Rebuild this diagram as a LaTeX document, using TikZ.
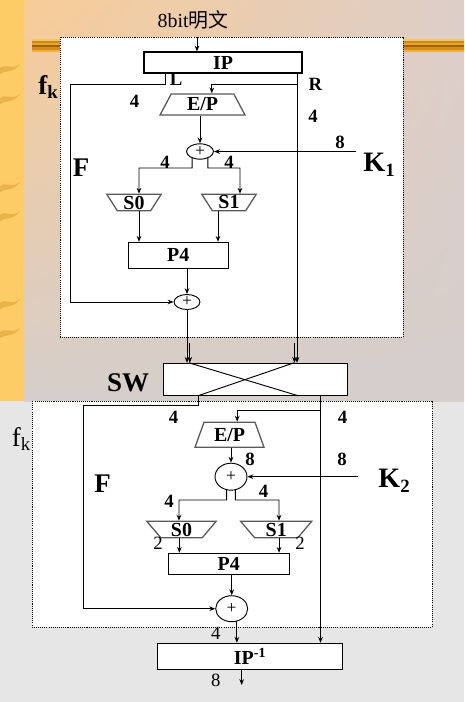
\documentclass[tikz,border=0pt]{standalone}
\usepackage{fontspec}
\setmainfont{Liberation Serif}
\newfontfamily\cjk{Noto Sans CJK SC}
\usetikzlibrary{arrows.meta, shapes.geometric, shadings}
\definecolor{stripc}{HTML}{FECC66}
\definecolor{leafc}{HTML}{E9B24A}
\definecolor{peach}{HTML}{F8CC96}
\definecolor{mauve}{HTML}{DDCEC9}
\definecolor{greyb}{HTML}{D5CECB}
\definecolor{lowgrey}{HTML}{E6E6E6}
\definecolor{trapc}{HTML}{5A5A5A}
\definecolor{barA}{HTML}{F2C464}
\definecolor{barB}{HTML}{C88A18}
\definecolor{barC}{HTML}{E9A52A}
\definecolor{barD}{HTML}{9C6408}
\definecolor{barE}{HTML}{D48C14}
\definecolor{barF}{HTML}{F2B040}

\begin{document}
\begin{tikzpicture}[
    x=0.03cm, y=-0.03cm,
    every node/.style={inner sep=0pt},
    arr/.style={-{Stealth[length=5pt, width=4pt]}, line width=0.8pt},
    wire/.style={line width=0.8pt},
    box/.style={rectangle, draw, line width=0.9pt, fill=white, font=\bfseries\fontsize{17}{17}\selectfont},
    trap/.style={trapezium, draw=trapc, line width=1.1pt, fill=white, trapezium stretches body, font=\bfseries\fontsize{17}{17}\selectfont},
    xorop/.style={ellipse, draw, line width=0.8pt, fill=white, font=\fontsize{15}{15}\selectfont},
    num/.style={font=\bfseries\fontsize{16}{16}\selectfont},
    thin/.style={font=\fontsize{16}{16}\selectfont},
    big/.style={font=\bfseries\fontsize{23}{23}\selectfont},
    frame/.style={fill=white, line width=0.8pt, dash pattern=on 0.9pt off 0.9pt},
]
\useasboundingbox (0,0) rectangle (464,702);

% ============================================================ slide background
\fill[lowgrey] (0,401) rectangle (464,702);
\shade[upper left=peach, upper right=mauve, lower left=greyb, lower right=greyb] (24,0) rectangle (464,401);
\fill[stripc] (0,0) rectangle (24,401);
\foreach \ly in {68, 98, 186, 215, 303, 332}{
    \fill[leafc] (0,\ly) .. controls (6,\ly-5) and (12,\ly+3) .. (20,\ly-4)
        .. controls (14,\ly+5) and (6,\ly+2) .. (0,\ly+6) -- cycle;
}
\fill[barA] (32,39) rectangle (464,41.5);
\fill[barB] (32,41.5) rectangle (464,43.5);
\fill[barC] (32,43.5) rectangle (464,45.5);
\fill[barD] (32,45.5) rectangle (464,47.5);
\fill[barE] (32,47.5) rectangle (464,50);
\fill[barF] (32,50) rectangle (464,52);

\filldraw[frame] (60,37) rectangle (403,337);
\filldraw[frame] (32,401) rectangle (432,627);

% ============================================================ first round f_k
\node (plain) at (193,20) {\fontsize{17}{17}\selectfont 8bit{\cjk 明文}};
\node[box, minimum width=4.74cm, minimum height=0.63cm] (ip) at (223,62.5) {IP};
\coordinate (inp) at (197,37);
\coordinate (lo) at (165,73);
\coordinate (ro) at (297,73);
\coordinate (rb) at (297,84);
\coordinate (k1in) at (356,151.5);

\node[trap, trapezium left angle=50, trapezium right angle=50,
    minimum width=2.55cm, minimum height=0.63cm] (ep1) at (202.5,104.5) {E/P};
\node[xorop, minimum width=0.81cm, minimum height=0.46cm] (ox1) at (200,151.5) {+};
\node[trap, shape border rotate=180, trapezium left angle=52, trapezium right angle=52,
    minimum width=1.63cm, minimum height=0.49cm] (s0a) at (134,202.5) {S0};
\node[trap, shape border rotate=180, trapezium left angle=52, trapezium right angle=52,
    minimum width=1.63cm, minimum height=0.49cm] (s1a) at (229,202.5) {S1};
\node[box, minimum width=3cm, minimum height=0.78cm] (p4a) at (178.3,255.3) {P4};
\node[xorop, minimum width=0.78cm, minimum height=0.45cm] (ox2) at (187,302) {+};

% the swap box
\node[box, minimum width=5.53cm, minimum height=0.96cm] (sw) at (255.5,379.3) {};
\draw[wire] ([xshift=0.78cm]sw.north west) -- ([xshift=4.07cm]sw.south west);
\draw[wire] ([xshift=3.94cm]sw.north west) -- ([xshift=1.05cm]sw.south west);
\coordinate (dl) at (189.8,343);
\coordinate (dr) at (294.5,343);

\draw[arr] (inp) -- (inp |- ip.north);
\draw[arr] (lo) |- (70,84) |- (ox2.west);
\draw[arr] (ro) -- (ro |- sw.north);
\draw[arr] (rb) -| ([xshift=0.28cm]ep1.north);
\draw[arr] (ox1.north |- ep1.south) -- (ox1.north);
\draw[arr] (k1in) -- (ox1.east);
\draw[arr] (ox1.-140) |- (139,168) -- ([xshift=0.15cm]s0a.north);
\draw[arr] (ox1.-40) |- (240,168) -- ([xshift=0.33cm]s1a.north);
\draw[arr] ([xshift=0.15cm]s0a.south) -- ([xshift=0.15cm]s0a.south |- p4a.north);
\draw[arr] ([xshift=-0.33cm]s1a.south) -- ([xshift=-0.33cm]s1a.south |- p4a.north);
\draw[arr] (ox2.north |- p4a.south) -- (ox2.north);
\draw[arr] (ox2.south) -- (ox2.south |- sw.north);
\draw[arr] (dl) -- (dl |- sw.north);
\draw[arr] (dr) -- (dr |- sw.north);

\node[num] (lname) at (176,79) {L};
\node[num] (rname) at (315.5,84) {R};
\node[num] (la) at (134.5,101.5) {4};
\node[num] (ra) at (313,116.5) {4};
\node[num] (k1w) at (340,142) {8};
\node[num] (s0w) at (165,162.5) {4};
\node[num] (s1w) at (229,162.5) {4};
\node[big] (fka) at (48,87) {f\raisebox{-4pt}{\fontsize{16}{16}\selectfont k}};
\node[big] (fa) at (81,167.5) {F};
\node[big, font=\bfseries\fontsize{24}{24}\selectfont] (k1) at (379,165) {K\raisebox{-4pt}{\fontsize{16}{16}\selectfont 1}};
\node[big] (swl) at (128,383) {SW};

% ============================================================ second round f_k
\coordinate (rb2) at (321,410.7);
\coordinate (k2in) at (358,476.7);
\coordinate (outp) at (241.7,685);

\node[trap, trapezium left angle=56, trapezium right angle=56,
    minimum width=2.07cm, minimum height=0.75cm] (ep2) at (229.5,434.8) {E/P};
\node[xorop, minimum width=0.96cm, minimum height=0.81cm] (ox3) at (231,476.7) {+};
\node[trap, shape border rotate=180, trapezium left angle=44, trapezium right angle=44,
    minimum width=2.08cm, minimum height=0.49cm] (s0b) at (181.5,529.5) {S0};
\node[trap, shape border rotate=180, trapezium left angle=44, trapezium right angle=44,
    minimum width=2.13cm, minimum height=0.49cm] (s1b) at (276.2,529.5) {S1};
\node[box, minimum width=3.63cm, minimum height=0.63cm] (p4b) at (228.8,563.8) {P4};
\node[xorop, minimum width=0.96cm, minimum height=0.78cm] (ox4) at (231.7,608.7) {+};
\node[box, minimum width=5.56cm, minimum height=0.78cm] (ipinv) at (250,656.3) {IP\textsuperscript{-1}};

\draw[arr] ([xshift=1.08cm]sw.south west) |- (83,405.3) |- (ox4.west);
\draw[arr] ([xshift=4.73cm]sw.south west) -- ([xshift=4.73cm]sw.south west |- ipinv.north);
\draw[arr] (rb2) -| ([xshift=0.23cm]ep2.north);
\draw[arr] (ox3.north |- ep2.south) -- (ox3.north);
\draw[arr] (k2in) -- (ox3.east);
\draw[arr] (ox3.-108) |- (179,500) -- ([xshift=-0.075cm]s0b.north);
\draw[arr] (ox3.-72) |- (279,500) -- ([xshift=0.085cm]s1b.north);
\draw[arr] ([xshift=-0.065cm]s0b.south) -- ([xshift=-0.065cm]s0b.south |- p4b.north);
\draw[arr] ([xshift=0.085cm]s1b.south) -- ([xshift=0.085cm]s1b.south |- p4b.north);
\draw[arr] (ox4.north |- p4b.south) -- (ox4.north);
\draw[arr] (ox4.-68) -- (ox4.-68 |- ipinv.north);
\draw[arr] (outp |- ipinv.south) -- (outp);

\node[num] (lb) at (173.5,417.5) {4};
\node[num] (rbw) at (342.5,417.5) {4};
\node[num] (epw) at (250,459.5) {8};
\node[num] (k2w) at (342,459) {8};
\node[num] (s0bw) at (169,501.5) {4};
\node[num] (s1bw) at (263.5,491.5) {4};
\node[thin] (s0o) at (158,543.5) {2};
\node[thin] (s1o) at (300,543.5) {2};
\node[thin] (fbw) at (215.7,633.5) {4};
\node[thin] (outw) at (215.7,680) {8};
\node[big, font=\fontsize{23}{23}\selectfont] (fkb) at (21,439) {f\raisebox{-4pt}{\fontsize{16}{16}\selectfont k}};
\node[big] (fb) at (102.5,483.5) {F};
\node[big, font=\bfseries\fontsize{24}{24}\selectfont] (k2) at (394,481) {K\raisebox{-4pt}{\fontsize{16}{16}\selectfont 2}};

\end{tikzpicture}
\end{document}
